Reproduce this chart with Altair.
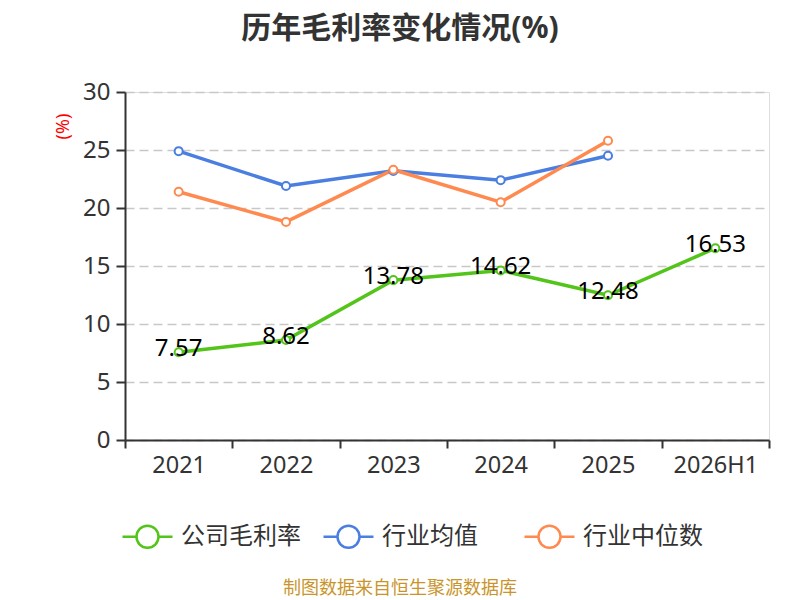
import altair as alt
import pandas as pd

years = ["2021", "2022", "2023", "2024", "2025", "2026H1"]
company = [7.57, 8.62, 13.78, 14.62, 12.48, 16.53]
industry_avg = [24.9, 21.9, 23.2, 22.4, 24.5, None]
industry_median = [21.4, 18.8, 23.3, 20.5, 25.8, None]
series_names = ["公司毛利率", "行业均值", "行业中位数"]
series_colors = ["#52c41a", "#4a7ee0", "#ff8a50"]
y_ticks = [0, 5, 10, 15, 20, 25, 30]
title_text = "历年毛利率变化情况(%)"
source_note = ["制图数据来自恒生聚源数据库"]

rows = []
for name, vals in zip(series_names, [company, industry_avg, industry_median]):
    for yr, v in zip(years, vals):
        if v is not None:
            rows.append({"year": yr, "series": name, "value": v, "label": f"{v:.2f}"})
df = pd.DataFrame(rows)
df_company = df[df["series"] == series_names[0]]
df_note = pd.DataFrame({"note": source_note})

FONT = "Noto Sans, Noto Sans CJK SC"
LEGEND_PATH = "M-1,0H-0.44A0.44,0.44 0 1,1 0.44,0A0.44,0.44 0 1,1 -0.44,0M0.44,0H1"

x = alt.X(
    "year:N",
    sort=years,
    bandPosition=0.5,
    scale=alt.Scale(type="band", domain=years, paddingInner=0, paddingOuter=0),
    axis=alt.Axis(
        title=None, tickBand="extent", labelAngle=0, labelFontSize=23.5,
        labelColor="#333", labelPadding=5, tickSize=8, tickWidth=2,
        tickColor="#333", domainColor="#333", domainWidth=2, grid=False,
        labelFont=FONT,
    ),
)
y = alt.Y(
    "value:Q",
    scale=alt.Scale(domain=[0, 30], nice=False),
    axis=alt.Axis(
        values=y_ticks, title="(%)", titleColor="red", titleFontSize=18,
        titleFont=FONT, titleFontWeight="normal", titleAngle=270,
        titleX=-62, titleY=34, titleAlign="center", titleBaseline="middle",
        labelFontSize=24, labelColor="#333", labelPadding=6, tickSize=9,
        tickWidth=2, tickColor="#333", domainColor="#333", domainWidth=2,
        grid=True, gridDash=[9, 5], gridColor="#c8c8c8", gridWidth=1.5,
        labelFont=FONT,
    ),
)
color_scale = alt.Scale(domain=series_names, range=series_colors)

lines = alt.Chart(df).mark_line(strokeWidth=3.5).encode(
    x=x, y=y,
    color=alt.Color(
        "series:N", scale=color_scale,
        legend=alt.Legend(
            title=None, orient="none", legendX=-4, legendY=418,
            direction="horizontal", columns=3, gridAlign="all",
            columnPadding=17, symbolType=LEGEND_PATH, symbolSize=2500,
            symbolStrokeWidth=2.5, symbolFillColor="white",
            labelFontSize=24, labelFont=FONT, labelColor="#333",
            labelOffset=7, padding=0,
        ),
    ),
)

points = alt.Chart(df).mark_point(
    shape="circle", filled=True, fill="white", size=65, strokeWidth=2, opacity=1
).encode(
    x=x, y=y,
    stroke=alt.Stroke("series:N", scale=color_scale, legend=None),
)

labels = alt.Chart(df_company).mark_text(
    fontSize=24, color="black", baseline="middle", dy=-3, font=FONT
).encode(x=x, y=y, text="label:N")

note = alt.Chart(df_note).mark_text(
    fontSize=18, color="#c9952b", align="center", baseline="middle", font=FONT
).encode(x=alt.value(275), y=alt.value(497), text="note:N")

chart = alt.layer(lines, points, labels, note).properties(
    width=644,
    height=348,
    padding={"left": 117, "top": 84, "right": 23, "bottom": 159},
    autosize=alt.AutoSizeParams(type="none"),
    title=alt.Title(
        title_text, fontSize=30, font=FONT, fontWeight="bold", color="#333",
        anchor="middle", frame="group", dx=-47, offset=36,
    ),
).configure_view(stroke=None).configure(background="white")

chart.save("out.html", embed_options={"renderer": "svg", "actions": False})
